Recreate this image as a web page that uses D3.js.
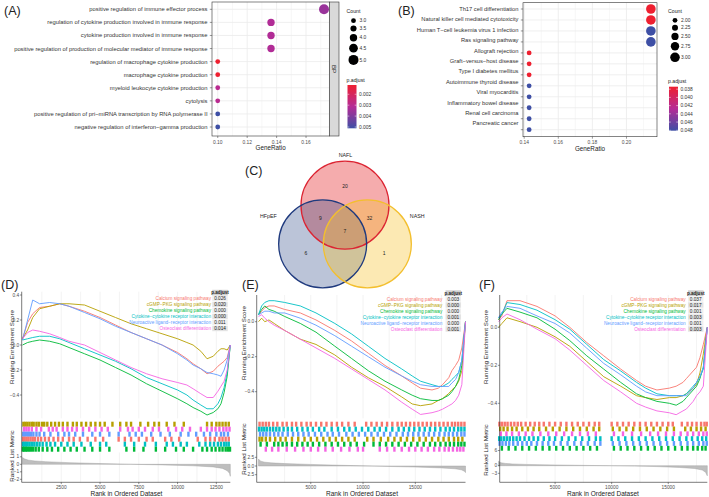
<!DOCTYPE html>
<html><head><meta charset="utf-8">
<script src="https://cdn.jsdelivr.net/npm/d3@7"></script>
<style>body{margin:0;background:#fff}svg{display:block;font-family:"Liberation Sans",Arial,sans-serif}</style>
</head><body><svg id="c" width="709" height="497"></svg>
<script>
// ---------------- DATA ----------------
const aTerms = ["positive regulation of immune effector process","regulation of cytokine production involved in immune response","cytokine production involved in immune response","positive regulation of production of molecular mediator of immune response","regulation of macrophage cytokine production","macrophage cytokine production","myeloid leukocyte cytokine production","cytolysis","positive regulation of pri\u2212miRNA transcription by RNA polymerase II","negative regulation of interferon\u2212gamma production"];
const aRatio = [0.1722,0.1362,0.1362,0.1362,0.10,0.10,0.10,0.10,0.10,0.10];
const aCount = [5,4,4,4,3,3,3,3,3,3];
const aPadj = [0.0036,0.0032,0.0032,0.0032,0.00115,0.00115,0.0030,0.0030,0.00512,0.00512];
const aXTicks = [0.10,0.12,0.14,0.16];
const aCountTicks = [3.0,3.5,4.0,4.5,5.0];
const aPadjTicks = [0.002,0.003,0.004,0.005];

const bTerms = ["Th17 cell differentiation","Natural killer cell mediated cytotoxicity","Human T\u2212cell leukemia virus 1 infection","Ras signaling pathway","Allograft rejection","Graft\u2212versus\u2212host disease","Type I diabetes mellitus","Autoimmune thyroid disease","Viral myocarditis","Inflammatory bowel disease","Renal cell carcinoma","Pancreatic cancer"];
const bRatio = [0.2143,0.2143,0.2143,0.2143,0.1429,0.1429,0.1429,0.1429,0.1429,0.1429,0.1429,0.1429];
const bCount = [3,3,3,3,2,2,2,2,2,2,2,2];
const bPadj = [0.0374,0.0374,0.0481,0.0481,0.0374,0.0374,0.0374,0.0481,0.0481,0.0481,0.0481,0.0481];
const bXTicks = [0.14,0.16,0.18,0.20];
const bCountTicks = [2.00,2.25,2.50,2.75,3.00];
const bPadjTicks = [0.038,0.040,0.042,0.044,0.046,0.048];

const vennSets = ["NAFL","HFpEF","NASH"];
const vennOnly = [20,6,1];          // NAFL only, HFpEF only, NASH only
const vennPairs = [[0,1,9],[0,2,32]]; // NAFL&HFpEF, NAFL&NASH
const vennAll = 7;

const gseaSets = ["Calcium signaling pathway","cGMP\u2212PKG signaling pathway","Chemokine signaling pathway","Cytokine\u2212cytokine receptor interaction","Neuroactive ligand\u2212receptor interaction","Osteoclast differentiation"];

const dRank = [0,330,660,1100,1750,2400,3000,4000,5000,6000,7000,8000,9000,10000,10600,11000,11500,11900,12300,12600,12800,13000,13200,13400];
const dES = [
 [0.05,0.18,0.25,0.30,0.31,0.33,0.31,0.27,0.22,0.16,0.10,0.05,0.00,-0.06,-0.11,-0.15,-0.19,-0.23,-0.21,-0.17,-0.15,-0.13,-0.10,0.0],
 [0.05,0.12,0.22,0.29,0.31,0.33,0.33,0.32,0.27,0.22,0.17,0.13,0.09,0.05,0.02,0.0,-0.05,-0.11,-0.09,-0.05,-0.03,-0.03,-0.04,0.0],
 [0.0,0.02,0.03,0.04,0.03,0.01,-0.02,-0.07,-0.12,-0.18,-0.24,-0.31,-0.37,-0.43,-0.47,-0.50,-0.53,-0.56,-0.54,-0.51,-0.47,-0.38,-0.25,0.0],
 [0.04,0.05,0.06,0.07,0.07,0.05,0.02,-0.03,-0.08,-0.13,-0.19,-0.26,-0.31,-0.36,-0.40,-0.44,-0.48,-0.51,-0.51,-0.47,-0.42,-0.34,-0.22,0.0],
 [0.04,0.20,0.36,0.33,0.34,0.33,0.31,0.26,0.21,0.15,0.10,0.05,0.0,-0.07,-0.12,-0.16,-0.19,-0.22,-0.23,-0.24,-0.25,-0.20,-0.12,0.0],
 [0.05,0.10,0.12,0.11,0.09,0.06,0.03,0.0,-0.06,-0.12,-0.18,-0.23,-0.27,-0.30,-0.32,-0.35,-0.39,-0.42,-0.42,-0.37,-0.33,-0.29,-0.20,0.0]];
const dPadj = ["0.026","0.020","0.000","0.000","0.011","0.014"];
const dHits = [
 [40,140,260,380,520,660,800,1000,1200,1450,1700,2000,2300,2600,3000,3300,3700,4200,4700,5200,6200,6600,7000,7500,8000,8400,9200,9600,10100,11300,11800,12100,12400,12700,12900,13100,13300],
 [60,180,310,450,600,720,900,1050,1250,1400,1600,1850,2100,2350,2600,2900,3250,3500,3800,4100,4400,4700,5000,5300,5800,6300,6700,7000,7600,8100,8500,8800,9300,9800,10400,11900,12200,12500,12700,12900,13100,13300],
 [20,110,200,300,420,540,680,850,1050,1300,1600,1900,2300,2700,3100,3500,4000,4500,5000,5600,6700,7200,7800,8600,9200,9900,10400,11000,11600,11900,12200,12450,12700,12900,13100,13250,13380],
 [30,120,220,330,460,600,760,920,1100,1300,1550,1800,2100,2500,2900,3300,3800,4400,5000,5400,6600,7200,7900,8600,9300,9700,10200,10600,11400,11800,12100,12350,12600,12800,13000,13150,13300],
 [50,150,300,420,550,700,900,1100,1400,1800,2300,2700,3000,3400,3900,4500,5000,5600,6200,6900,7300,7700,8300,8900,9500,10200,10700,11200,11700,12100,12500,12800,13000,13250],
 [100,250,400,600,900,1200,1700,1950,2200,2600,2900,3200,3500,3900,4300,4700,5100,5500,6300,6800,7100,7500,7900,8400,8800,9400,9900,10300,10800,11500,11900,12200,12450,12700,12950,13150,13350]];
const dRugOrder = [1,5,4,0,3,2];
const dMetricRank = [0,150,400,800,1500,3000,5000,7000,9000,11000,12300,12900,13200,13350,13400];
const dMetric = [0.9,0.7,0.55,0.45,0.35,0.22,0.1,0.0,-0.08,-0.2,-0.35,-0.55,-0.85,-1.2,-1.6];
const dXTicks = [2500,5000,7500,10000,12500];
const dESTicks = [0.4,0.2,0.0,-0.2,-0.4];
const dMetricTicks = [1,0,-1,-2];

const eRank = [0,300,600,1000,1500,2500,4000,5500,7300,8900,10500,12100,13700,14700,15500,16600,17200,17600,18200,18500,18850,19150,19450,19800];
const eES = [
 [0.04,0.06,0.08,0.09,0.09,0.07,0.05,0.01,-0.05,-0.11,-0.18,-0.25,-0.31,-0.35,-0.38,-0.39,-0.38,-0.36,-0.32,-0.28,-0.25,-0.22,-0.15,0.0],
 [0.0,0.02,0.0,0.01,-0.01,-0.05,-0.10,-0.13,-0.19,-0.26,-0.32,-0.37,-0.43,-0.47,-0.48,-0.47,-0.45,-0.44,-0.41,-0.39,-0.37,-0.34,-0.28,0.0],
 [0.04,0.07,0.09,0.07,0.06,0.03,-0.01,-0.06,-0.14,-0.21,-0.28,-0.34,-0.39,-0.42,-0.44,-0.45,-0.45,-0.44,-0.42,-0.40,-0.37,-0.33,-0.25,0.0],
 [0.04,0.09,0.11,0.12,0.12,0.11,0.09,0.05,-0.01,-0.07,-0.14,-0.21,-0.27,-0.31,-0.34,-0.36,-0.37,-0.37,-0.35,-0.33,-0.31,-0.29,-0.22,0.0],
 [0.04,0.05,0.06,0.06,0.05,0.05,0.02,-0.02,-0.08,-0.14,-0.20,-0.26,-0.31,-0.34,-0.36,-0.37,-0.37,-0.37,-0.37,-0.35,-0.33,-0.29,-0.22,0.0],
 [0.03,0.04,0.02,0.0,-0.02,-0.05,-0.10,-0.15,-0.21,-0.27,-0.33,-0.39,-0.46,-0.50,-0.53,-0.52,-0.51,-0.50,-0.48,-0.47,-0.45,-0.42,-0.36,0.0]];
const ePadj = ["0.003","0.000","0.000","0.001","0.000","0.001"];
const eHits = [
 [100,400,700,1000,1400,1800,2300,2700,3200,3600,4100,4600,5000,5500,6000,6500,7000,7500,8000,8600,9200,10300,10800,11300,11800,12300,12800,13300,13700,14100,14500,14900,15300,15700,16100,16500,16900,17300,17700,18100,18500,18800,19100,19400,19700],
 [100,350,700,1100,1600,2100,2600,3200,3800,4400,5000,5600,6200,6800,7400,8000,8600,9200,10400,11000,11700,12400,13000,13600,14200,14800,15400,16000,16600,17200,17700,18200,18700,19100,19500],
 [200,800,1500,1900,2300,2700,3200,3700,4200,4700,5200,5800,6400,7000,7600,8200,8800,9400,10100,11000,11600,12200,12800,13400,14000,14600,15200,15800,16400,16900,17400,17900,18300,18700,19100,19400,19700],
 [50,300,550,800,1100,1400,1700,2000,2400,2800,3200,3700,4200,4700,5200,5800,6300,7000,7600,8200,8700,9300,9900,10500,11100,11600,12200,12800,13400,13900,14400,14900,15400,15900,16400,16900,17400,17900,18300,18700,19100,19400,19700],
 [150,450,750,1100,1500,1900,2300,2800,3300,3800,4300,4800,5400,6000,6600,7100,7700,8400,9000,9600,10200,10800,11400,12000,12600,13200,13800,14300,14800,15300,15800,16300,16800,17300,17800,18200,18600,19000,19400,19700],
 [700,1300,1900,2700,3500,4300,5000,5700,6400,7100,7900,8700,9500,10000,11600,12300,13000,13700,14400,15000,15600,16200,16800,17300,17800,18200,18600,19000,19300,19600]];
const eRugOrder = [0,3,4,1,2,5];
const eMetricRank = [0,200,600,1200,2500,5000,8000,10000,12000,15000,17500,18800,19400,19700,19800];
const eMetric = [2.0,1.4,1.1,0.9,0.7,0.45,0.2,0.05,-0.1,-0.3,-0.55,-0.8,-1.1,-1.5,-1.9];
const eXTicks = [5000,10000,15000];
const eESTicks = [0.0,-0.2,-0.4];
const eMetricTicks = [2.5,0.0,-2.5];

const fRank = [0,300,750,1900,3400,5000,6300,7800,9300,10800,12200,13000,14000,15100,15700,16300,16600,17200,17500,17800,18100,18450];
const fES = [
 [0.04,0.06,0.14,0.14,0.11,0.06,0.0,-0.08,-0.15,-0.22,-0.28,-0.31,-0.33,-0.32,-0.31,-0.29,-0.27,-0.23,-0.21,-0.16,-0.09,0.0],
 [0.0,0.02,0.05,0.03,0.0,-0.05,-0.10,-0.18,-0.26,-0.31,-0.36,-0.37,-0.38,-0.37,-0.37,-0.36,-0.35,-0.32,-0.30,-0.24,-0.14,0.0],
 [0.04,0.07,0.10,0.08,0.05,-0.01,-0.07,-0.15,-0.22,-0.29,-0.35,-0.37,-0.39,-0.40,-0.41,-0.39,-0.37,-0.33,-0.31,-0.27,-0.21,0.0],
 [0.05,0.07,0.13,0.12,0.09,0.04,-0.01,-0.09,-0.17,-0.23,-0.29,-0.32,-0.35,-0.36,-0.36,-0.36,-0.35,-0.31,-0.29,-0.26,-0.22,0.0],
 [0.05,0.08,0.11,0.10,0.06,0.02,-0.03,-0.11,-0.19,-0.25,-0.31,-0.34,-0.36,-0.36,-0.36,-0.36,-0.36,-0.32,-0.29,-0.26,-0.21,0.0],
 [0.03,0.05,0.07,0.04,-0.01,-0.06,-0.12,-0.20,-0.28,-0.34,-0.40,-0.42,-0.44,-0.45,-0.46,-0.44,-0.43,-0.39,-0.36,-0.34,-0.31,0.0]];
const fPadj = ["0.037","0.017","0.001","0.003","0.001","0.003"];
const fHits = [
 [80,300,550,800,1100,1400,1700,2000,2400,2800,3200,3600,4000,4500,5000,5500,6000,6500,7000,7500,8000,8500,8900,10000,10500,11000,11500,12000,12500,13000,13500,14000,14500,15000,15400,16200,16700,17100,17500,17900,18200,18400],
 [150,450,800,1200,1600,2100,2600,3100,3600,4200,4800,5400,6000,6600,7200,7800,8400,8900,10100,10700,11300,11900,12500,13100,13700,14300,14900,15500,16500,17000,17500,17900,18300],
 [300,900,1500,2100,2700,3300,3900,4500,5100,5700,6300,6900,7500,8100,8700,10200,10800,11400,12000,12600,13200,13800,14400,15000,15600,16200,16700,17200,17600,18000,18300],
 [60,250,500,750,1000,1300,1600,1900,2300,2700,3100,3500,4000,4500,5000,5600,6200,6800,7400,8000,8600,9000,10000,10600,11200,11800,12400,13000,13600,14200,14800,15400,16000,16600,17100,17600,18000,18350],
 [100,350,650,950,1300,1700,2100,2500,2900,3400,3900,4400,4900,5500,6100,6700,7300,7900,8500,9000,10100,10700,11300,11900,12500,13100,13700,14300,14900,15500,16100,16700,17200,17700,18100,18400],
 [200,700,1200,1800,2400,3000,3700,4400,5100,5800,6500,7200,7900,8600,10200,11000,11800,12600,13400,14100,14800,15500,16100,16700,17200,17700,18100,18400]];
const fRugOrder = [0,1,5,3,4,2];
const fMetricRank = [0,200,600,1200,2500,5000,8000,10000,12000,14000,16000,17300,18000,18300,18450];
const fMetric = [1.8,1.2,0.9,0.7,0.5,0.3,0.1,0.0,-0.15,-0.35,-0.7,-1.1,-1.7,-2.6,-4.0];
const fXTicks = [5000,10000,15000];
const fESTicks = [0.0,-0.2,-0.4];
const fMetricTicks = [6,0,-3];

// ---------------- STYLE ----------------
const svg = d3.select("#c");
const SERIES_COL = ["#F8766D","#B79F00","#00BA38","#00BFC4","#619CFF","#F564E3"];
const PADJ_COL = ["#EE2030","#B52B96","#3E4FA5"];
const GRID = "#EBEBEB", DARK = "#333333", TICKTXT = "#4D4D4D";

svg.append("rect").attr("width",709).attr("height",497).attr("fill","#fff");

function panelLabel(txt,x,y){
  svg.append("text").attr("x",x).attr("y",y).attr("font-size",12.5).attr("fill","#222").text(txt);
}

// ---------------- DOT PLOTS ----------------
function dotPanel(c){
  const g = svg.append("g");
  const x = d3.scaleLinear().domain(c.xDomain).range([c.left,c.right]);
  const n = c.terms.length;
  const yDot = d3.scalePoint().domain(d3.range(n)).range(c.dotRows);
  const yLab = d3.scalePoint().domain(d3.range(n)).range(c.labRows);
  const r = d3.scaleLinear().domain(c.countDomain).range(c.rRange);
  const pd = c.padjDomain;
  const col = d3.scaleLinear().domain([pd[0],(pd[0]+pd[1])/2,pd[1]]).range(PADJ_COL).clamp(true);
  const step = c.xTicks[1]-c.xTicks[0];
  const minors = d3.range(c.xTicks[0]-step/2, c.xDomain[1], step).filter(v=>v>c.xDomain[0]&&v<c.xDomain[1]);
  g.selectAll(".mn").data(minors).join("line").attr("x1",d=>x(d)).attr("x2",d=>x(d))
    .attr("y1",c.top).attr("y2",c.bottom).attr("stroke",GRID).attr("stroke-width",0.4);
  g.selectAll(".mj").data(c.xTicks).join("line").attr("x1",d=>x(d)).attr("x2",d=>x(d))
    .attr("y1",c.top).attr("y2",c.bottom).attr("stroke",GRID).attr("stroke-width",0.8);
  g.selectAll(".hy").data(d3.range(n)).join("line").attr("x1",c.left).attr("x2",c.right)
    .attr("y1",d=>yDot(d)).attr("y2",d=>yDot(d)).attr("stroke",GRID).attr("stroke-width",0.8);
  g.selectAll(".dot").data(d3.range(n)).join("circle")
    .attr("cx",i=>x(c.ratio[i])).attr("cy",i=>yDot(i)).attr("r",i=>r(c.count[i]))
    .attr("fill",i=>col(c.padj[i]));
  g.append("rect").attr("x",c.left).attr("y",c.top).attr("width",c.right-c.left).attr("height",c.bottom-c.top)
    .attr("fill","none").attr("stroke",DARK).attr("stroke-width",0.6);
  g.selectAll(".yt").data(d3.range(n)).join("line").attr("x1",c.left-2.2).attr("x2",c.left)
    .attr("y1",d=>yDot(d)).attr("y2",d=>yDot(d)).attr("stroke",DARK).attr("stroke-width",0.5);
  g.selectAll(".yl").data(d3.range(n)).join("text").attr("x",c.left-4.5).attr("y",d=>yLab(d))
    .attr("dy","0.35em").attr("text-anchor","end").attr("font-size",c.labSize).attr("fill","#333").text(d=>c.terms[d]);
  g.selectAll(".xt").data(c.xTicks).join("line").attr("x1",d=>x(d)).attr("x2",d=>x(d))
    .attr("y1",c.bottom).attr("y2",c.bottom+2).attr("stroke",DARK).attr("stroke-width",0.5);
  g.selectAll(".xl").data(c.xTicks).join("text").attr("x",d=>x(d)).attr("y",c.bottom+7.5)
    .attr("text-anchor","middle").attr("font-size",4.9).attr("fill",TICKTXT).text(d=>d3.format(".2f")(d));
  g.append("text").attr("x",(c.left+c.right)/2).attr("y",c.bottom+14).attr("text-anchor","middle")
    .attr("font-size",6.3).attr("fill","#222").text("GeneRatio");
  if(c.strip){
    g.append("rect").attr("x",c.right).attr("y",c.top).attr("width",c.stripW).attr("height",c.bottom-c.top)
      .attr("fill","#D9D9D9").attr("stroke",DARK).attr("stroke-width",0.6);
    g.append("text").attr("transform",`translate(${c.right+c.stripW/2-2},${(c.top+c.bottom)/2}) rotate(90)`)
      .attr("text-anchor","middle").attr("font-size",6.2).attr("fill","#1A1A1A").text(c.strip);
  }
  const lx = c.legX;
  g.append("text").attr("x",lx-1).attr("y",c.countTitleY).attr("font-size",5.2).attr("fill","#222").text("Count");
  let yy = c.countY0, prev = null;
  c.countTicks.forEach((v,i)=>{
    const rr = r(v);
    if(prev!==null) yy += prev + rr + c.countGap;
    prev = rr;
    g.append("circle").attr("cx",lx+6).attr("cy",yy).attr("r",rr).attr("fill","#000");
    g.append("text").attr("x",lx+12).attr("y",yy).attr("dy","0.35em").attr("font-size",4.9).attr("fill","#333")
      .text(d3.format(c.countFmt)(v));
  });
  g.append("text").attr("x",lx-1).attr("y",c.barTitleY).attr("font-size",5.2).attr("fill","#222").text("p.adjust");
  const cb = d3.scaleLinear().domain(pd).range([c.barTop,c.barBottom]);
  const gid = "grad"+c.id;
  const grad = svg.append("defs").append("linearGradient").attr("id",gid).attr("x1",0).attr("x2",0).attr("y1",0).attr("y2",1);
  d3.range(11).forEach(k=>{
    grad.append("stop").attr("offset",k/10).attr("stop-color",col(pd[0]+(pd[1]-pd[0])*k/10));
  });
  g.append("rect").attr("x",lx).attr("y",c.barTop).attr("width",9).attr("height",c.barBottom-c.barTop).attr("fill",`url(#${gid})`);
  c.padjTicks.forEach(v=>{
    g.append("line").attr("x1",lx).attr("x2",lx+1.8).attr("y1",cb(v)).attr("y2",cb(v)).attr("stroke","#fff").attr("stroke-width",0.5);
    g.append("line").attr("x1",lx+7.2).attr("x2",lx+9).attr("y1",cb(v)).attr("y2",cb(v)).attr("stroke","#fff").attr("stroke-width",0.5);
    g.append("text").attr("x",lx+11.5).attr("y",cb(v)).attr("dy","0.35em").attr("font-size",4.9).attr("fill","#333")
      .text(d3.format(".3f")(v));
  });
}

dotPanel({id:"A",terms:aTerms,ratio:aRatio,count:aCount,padj:aPadj,xTicks:aXTicks,
  xDomain:[0.0961,0.1758],left:212,right:329.3,top:2,bottom:136,
  dotRows:[9.3,127],labRows:[9.3,127],labSize:5.8,
  countDomain:[3,5],rRange:[2.4,5.0],padjDomain:[0.00115,0.00512],
  strip:"BP",stripW:9.7,legX:347.5,countTitleY:13,countY0:20.7,countGap:2.4,countTicks:aCountTicks,countFmt:".1f",
  barTitleY:82,barTop:85,barBottom:128.3,padjTicks:aPadjTicks});

dotPanel({id:"B",terms:bTerms,ratio:bRatio,count:bCount,padj:bPadj,xTicks:bXTicks,
  xDomain:[0.1393,0.2179],left:523,right:657,top:2.7,bottom:136.7,
  dotRows:[9,129.7],labRows:[9,123.3],labSize:5.75,
  countDomain:[2,3],rRange:[2.4,4.8],padjDomain:[0.0374,0.0481],
  strip:null,legX:669,countTitleY:13,countY0:20.3,countGap:2.05,countTicks:bCountTicks,countFmt:".2f",
  barTitleY:82.5,barTop:86.7,barBottom:130.7,padjTicks:bPadjTicks});

panelLabel("(A)",4,14.5);
panelLabel("(B)",398,14.5);

// ---------------- VENN ----------------
(function(){
  const g = svg.append("g");
  const cx0 = 345, cy0 = 231, R = 44, sep = 25.8;
  const ang = [-90,150,30].map(a=>a*Math.PI/180);
  const centers = ang.map(a=>[cx0+sep*Math.cos(a), cy0+sep*Math.sin(a)]);
  const fills = ["#E41A1C","#1F3A7E","#F6C12B"];
  const strokes = ["#DC2432","#1F3A7E","#F3BF2E"];
  const fop = [0.36,0.30,0.36];
  centers.forEach((c,i)=>g.append("circle").attr("cx",c[0]).attr("cy",c[1]).attr("r",R)
    .attr("fill",fills[i]).attr("fill-opacity",fop[i]));
  centers.forEach((c,i)=>g.append("circle").attr("cx",c[0]).attr("cy",c[1]).attr("r",R)
    .attr("fill","none").attr("stroke",strokes[i]).attr("stroke-width",1.3));
  const fs = 5;
  vennOnly.forEach((v,i)=>{
    const c = centers[i];
    g.append("text").attr("x",cx0+(c[0]-cx0)*1.75).attr("y",cy0+(c[1]-cy0)*1.72).attr("dy","0.35em")
      .attr("text-anchor","middle").attr("font-size",fs).attr("fill","#222").text(v);
  });
  vennPairs.forEach(p=>{
    const a = centers[p[0]], b = centers[p[1]];
    const mx = (a[0]+b[0])/2, my = (a[1]+b[1])/2;
    g.append("text").attr("x",cx0+(mx-cx0)*2.2).attr("y",cy0+(my-cy0)*2.0).attr("dy","0.35em")
      .attr("text-anchor","middle").attr("font-size",fs).attr("fill","#222").text(p[2]);
  });
  g.append("text").attr("x",cx0).attr("y",cy0).attr("dy","0.35em").attr("text-anchor","middle")
    .attr("font-size",fs).attr("fill","#222").text(vennAll);
  g.append("text").attr("x",centers[0][0]+0.5).attr("y",centers[0][1]-R-4).attr("text-anchor","middle")
    .attr("font-size",5.3).attr("fill","#222").text(vennSets[0]);
  g.append("text").attr("x",centers[1][0]-R-2).attr("y",216).attr("dy","0.35em").attr("text-anchor","end")
    .attr("font-size",5.3).attr("fill","#222").text(vennSets[1]);
  g.append("text").attr("x",centers[2][0]+R-1.5).attr("y",216.5).attr("dy","0.35em").attr("text-anchor","start")
    .attr("font-size",5.3).attr("fill","#222").text(vennSets[2]);
})();
panelLabel("(C)",245,175);

// ---------------- GSEA ----------------
function gsea(c){
  const g = svg.append("g");
  const x = d3.scaleLinear().domain([0,c.maxRank]).range([c.x0,c.x1]);
  const y = d3.scaleLinear().domain([0,c.esRef]).range([c.esZero,c.esRefY]);
  const ym = d3.scaleLinear().domain([0,c.mRef]).range([c.mZero,c.mRefY]);
  const step = c.xTicks[1]-c.xTicks[0];
  const grid = d3.range(step/2, c.maxRank, step/2);
  [[c.esTop,c.esBottom],[c.mTop,c.axisY]].forEach(([a,b])=>{
    g.selectAll(null).data(grid).join("line").attr("x1",d=>x(d)).attr("x2",d=>x(d))
      .attr("y1",a).attr("y2",b).attr("stroke",GRID).attr("stroke-width",0.6);
  });
  const line = d3.line().x(d=>x(d[0])).y(d=>y(d[1]));
  c.es.forEach((s,i)=>{
    g.append("path").attr("d",line(c.rank.map((r,k)=>[r,s[k]]))).attr("fill","none")
      .attr("stroke",SERIES_COL[i]).attr("stroke-width",0.9).attr("stroke-linejoin","round");
  });
  const rowH = (c.rugBottom-c.rugTop)/6;
  c.rugOrder.forEach((si,row)=>{
    g.selectAll(null).data(c.hits[si]).join("rect").attr("x",d=>x(d)-1.2).attr("width",2.4)
      .attr("y",c.rugTop+row*rowH).attr("height",rowH).attr("fill",SERIES_COL[si]);
  });
  const area = d3.area().x(d=>x(d[0])).y0(ym(0)).y1(d=>ym(d[1]));
  const md = c.mRank.map((r,k)=>[r,c.metric[k]]);
  g.append("path").attr("d",area(md)).attr("fill","#BEBEBE").attr("stroke","#9A9A9A").attr("stroke-width",0.4);
  g.append("line").attr("x1",c.axisX).attr("x2",c.axisX).attr("y1",c.esTop).attr("y2",c.axisY).attr("stroke","#222").attr("stroke-width",0.6);
  g.append("line").attr("x1",c.axisX).attr("x2",c.x1).attr("y1",c.axisY).attr("y2",c.axisY).attr("stroke","#222").attr("stroke-width",0.6);
  g.selectAll(null).data(c.esTicks).join("line").attr("x1",c.axisX-1.8).attr("x2",c.axisX).attr("y1",d=>y(d)).attr("y2",d=>y(d)).attr("stroke","#222").attr("stroke-width",0.5);
  g.selectAll(null).data(c.esTicks).join("text").attr("x",c.axisX-2.5).attr("y",d=>y(d)).attr("dy","0.35em")
    .attr("text-anchor","end").attr("font-size",4.8).attr("fill",TICKTXT).text(d=>d3.format(".1f")(d));
  g.selectAll(null).data(c.mTicks).join("line").attr("x1",c.axisX-1.8).attr("x2",c.axisX).attr("y1",d=>ym(d)).attr("y2",d=>ym(d)).attr("stroke","#222").attr("stroke-width",0.5);
  g.selectAll(null).data(c.mTicks).join("text").attr("x",c.axisX-2.5).attr("y",d=>ym(d)).attr("dy","0.35em")
    .attr("text-anchor","end").attr("font-size",4.8).attr("fill",TICKTXT).text(d=>d3.format(c.mFmt)(d));
  g.selectAll(null).data(c.xTicks).join("line").attr("x1",d=>x(d)).attr("x2",d=>x(d)).attr("y1",c.axisY).attr("y2",c.axisY+1.8).attr("stroke","#222").attr("stroke-width",0.5);
  g.selectAll(null).data(c.xTicks).join("text").attr("x",d=>x(d)).attr("y",c.axisY+6.4)
    .attr("text-anchor","middle").attr("font-size",4.8).attr("fill",TICKTXT).text(d=>d);
  g.append("text").attr("x",(c.x0+c.x1)/2).attr("y",c.axisY+14.1).attr("text-anchor","middle")
    .attr("font-size",6.5).attr("fill","#222").text("Rank in Ordered Dataset");
  g.append("text").attr("transform",`translate(${c.ylabX},${c.esLabY}) rotate(-90)`).attr("text-anchor","middle")
    .attr("dy","0.35em").attr("font-size",6.2).attr("fill","#222").text("Running Enrichment Score");
  g.append("text").attr("transform",`translate(${c.ylabX},${c.mLabY}) rotate(-90)`).attr("text-anchor","middle")
    .attr("dy","0.35em").attr("font-size",6.2).attr("fill","#222").text("Ranked List Metric");
  const lh = 6, cw = 15.5;
  g.append("rect").attr("x",c.valX-cw/2).attr("y",c.legY0-lh/2-lh+0.3).attr("width",cw).attr("height",lh-0.3).attr("fill","#D0D0D0");
  g.append("text").attr("x",c.valX).attr("y",c.legY0-lh).attr("dy","0.35em").attr("text-anchor","middle")
    .attr("font-size",4.6).attr("font-weight","bold").attr("fill","#222").text("p.adjust");
  gseaSets.forEach((s,i)=>{
    const yy = c.legY0+i*lh;
    g.append("rect").attr("x",c.valX-cw/2).attr("y",yy-lh/2+0.3).attr("width",cw).attr("height",lh-0.6)
      .attr("fill",i%2? "#E3E3E3":"#EFEFEF");
    g.append("text").attr("x",c.legX).attr("y",yy).attr("dy","0.35em").attr("text-anchor","end")
      .attr("font-size",4.7).attr("fill",SERIES_COL[i]).text(s);
    g.append("text").attr("x",c.valX).attr("y",yy).attr("dy","0.35em").attr("text-anchor","middle")
      .attr("font-size",4.7).attr("fill","#222").text(c.padj[i]);
  });
}

gsea({rank:dRank,es:dES,hits:dHits,rugOrder:dRugOrder,mRank:dMetricRank,metric:dMetric,padj:dPadj,
  xTicks:dXTicks,esTicks:dESTicks,mTicks:dMetricTicks,mFmt:"d",maxRank:13400,
  x0:22.5,x1:230.3,axisX:21.7,esZero:345,esRef:0.2,esRefY:320,esTop:291.7,esBottom:418.3,
  rugTop:421.7,rugBottom:451.7,mTop:452.5,mZero:464.3,mRef:1,mRefY:456.8,axisY:482.3,
  ylabX:11.7,esLabY:347,mLabY:456,legX:211,valX:220,legY0:298.5});

gsea({rank:eRank,es:eES,hits:eHits,rugOrder:eRugOrder,mRank:eMetricRank,metric:eMetric,padj:ePadj,
  xTicks:eXTicks,esTicks:eESTicks,mTicks:eMetricTicks,mFmt:".1f",maxRank:19800,
  x0:258.5,x1:465.5,axisX:256.7,esZero:321.7,esRef:-0.2,esRefY:356.7,esTop:295,esBottom:418.3,
  rugTop:421.7,rugBottom:451.7,mTop:452.5,mZero:466,mRef:2.5,mRefY:457.3,axisY:482.3,
  ylabX:244.3,esLabY:343,mLabY:449,legX:442.3,valX:453.3,legY0:299});

gsea({rank:fRank,es:fES,hits:fHits,rugOrder:fRugOrder,mRank:fMetricRank,metric:fMetric,padj:fPadj,
  xTicks:fXTicks,esTicks:fESTicks,mTicks:fMetricTicks,mFmt:"d",maxRank:18450,
  x0:498.5,x1:707.3,axisX:499.7,esZero:327.3,esRef:-0.2,esRefY:365.3,esTop:295,esBottom:418.3,
  rugTop:421.7,rugBottom:450.7,mTop:452.5,mZero:465.7,mRef:-3,mRefY:473.3,axisY:482.3,
  ylabX:485.7,esLabY:347,mLabY:450,legX:685.7,valX:695.7,legY0:299});

panelLabel("(D)",1,289);
panelLabel("(E)",242,289);
panelLabel("(F)",479,289);
</script></body></html>
